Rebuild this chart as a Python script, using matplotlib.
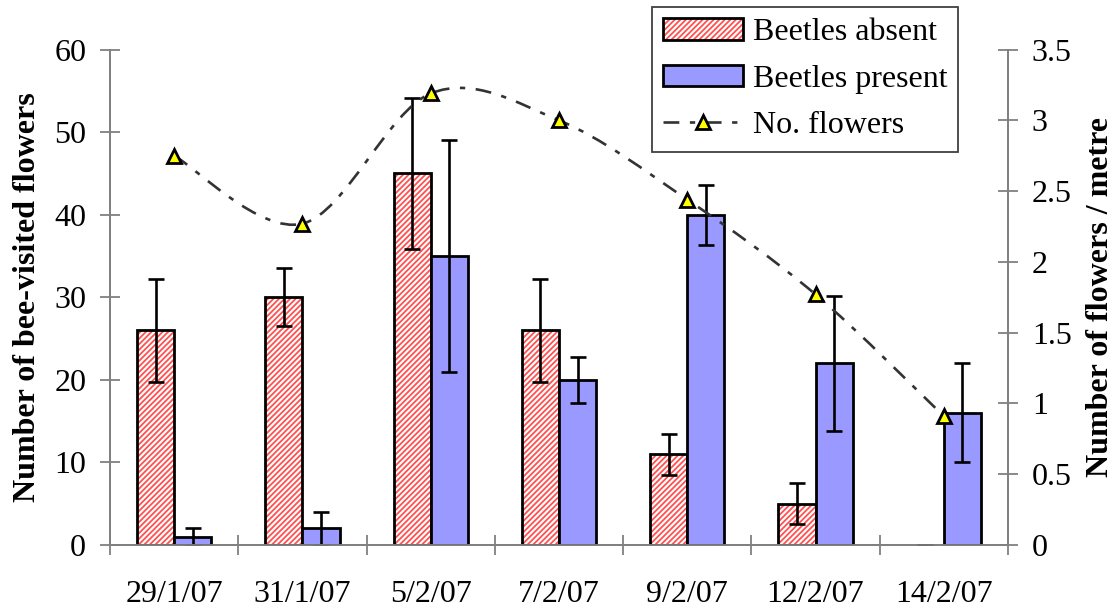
import numpy as np
import matplotlib.pyplot as plt
from matplotlib.path import Path
from matplotlib.patches import PathPatch, Patch
from matplotlib.lines import Line2D
from matplotlib.ticker import FixedLocator, MultipleLocator

plt.rcParams['font.family'] = ['Liberation Serif', 'DejaVu Serif']
plt.rcParams['hatch.linewidth'] = 1.3

dates = ['29/1/07', '31/1/07', '5/2/07', '7/2/07', '9/2/07', '12/2/07', '14/2/07']
absent = [26, 30, 45, 26, 11, 5, 0]
absent_err = [6.2, 3.5, 9.1, 6.2, 2.5, 2.5, 0]
present = [1, 2, 35, 20, 40, 22, 16]
present_err = [1, 2, 14, 2.8, 3.65, 8.2, 6]
flowers = [2.75, 2.27, 3.19, 3.0, 2.44, 1.77, 0.91]

fs = 23
grey = '#808080'
red = '#ff5050'
x = np.arange(len(dates))
w = 0.29

fig = plt.figure(figsize=(11.17, 6.09), dpi=100)
ax = fig.add_axes([0.0985, 0.1051, 0.8039, 0.8135])
ax2 = ax.twinx()

# beetles absent: red hatch, then black border on top
lw_abs = [2 if v > 0 else 0 for v in absent]
ax.bar(x - w / 2, absent, w, color='white', edgecolor=red, hatch='//////', linewidth=0, zorder=2)
ax.bar(x - w / 2, absent, w, fill=False, edgecolor='black', linewidth=lw_abs, zorder=3)
ax.bar(x + w / 2, present, w, color='#9999ff', edgecolor='black', linewidth=2, zorder=3)

ax.errorbar(x - w / 2, absent, yerr=absent_err, fmt='none', ecolor='black',
            elinewidth=1.9, capsize=5.5, capthick=1.9, zorder=4)
ax.errorbar(x + w / 2, present, yerr=present_err, fmt='none', ecolor='black',
            elinewidth=1.9, capsize=5.5, capthick=1.9, zorder=4)

ax.set_xlim(-0.5, len(dates) - 0.5)
ax.set_ylim(0, 60)
ax2.set_ylim(0, 3.5)

# smoothed line (Catmull-Rom style bezier like the spreadsheet "smoothed line")
pts = np.column_stack([x, flowers]).astype(float)
verts = [pts[0]]
codes = [Path.MOVETO]
n = len(pts)
for i in range(n - 1):
    p0 = pts[max(i - 1, 0)]
    p1 = pts[i]
    p2 = pts[i + 1]
    p3 = pts[min(i + 2, n - 1)]
    verts += [p1 + (p2 - p0) / 6, p2 - (p3 - p1) / 6, p2]
    codes += [Path.CURVE4] * 3
curve_style = dict(linestyle=(0, (6, 4, 2, 4)), linewidth=1.9)
ax2.add_patch(PathPatch(Path(verts, codes), fill=False, edgecolor='#333333', zorder=3, **curve_style))
ax2.plot(x, flowers, linestyle='none', marker='^', markersize=10, markerfacecolor='#ffff00',
         markeredgecolor='black', markeredgewidth=2, zorder=5)

# axes styling
for a in (ax, ax2):
    a.spines['top'].set_visible(False)
    for s in ('left', 'right', 'bottom'):
        a.spines[s].set_color(grey)
        a.spines[s].set_linewidth(1.3)

ax.yaxis.set_major_locator(MultipleLocator(10))
ax2.set_yticks(np.arange(0, 3.51, 0.5))
ax2.set_yticklabels(['0', '0.5', '1', '1.5', '2', '2.5', '3', '3.5'])

ax.set_xticks(x)
ax.set_xticklabels(dates)
ax.xaxis.set_minor_locator(FixedLocator(np.arange(-0.5, len(dates), 1)))
ax.tick_params(axis='x', which='major', length=0, pad=25, labelsize=fs)
ax.tick_params(axis='x', which='minor', direction='inout', length=15, width=1.3, color=grey)
ax.tick_params(axis='y', direction='inout', length=14.4, width=1.3, color=grey, pad=10, labelsize=fs)
ax2.tick_params(axis='y', direction='inout', length=14.4, width=1.3, color=grey, pad=10, labelsize=fs)

ax.set_ylabel('Number of bee-visited flowers', fontsize=fs, fontweight='bold', labelpad=9)
ax2.set_ylabel('Number of flowers / metre', fontsize=fs, fontweight='bold', labelpad=10)

# legend
h_abs = (Patch(facecolor='white', edgecolor=red, hatch='//////', linewidth=0),
         Patch(fill=False, edgecolor='black', linewidth=2))
h_pres = Patch(facecolor='#9999ff', edgecolor='black', linewidth=2)
h_line = Line2D([], [], color='#333333', marker='^', markersize=10, markerfacecolor='#ffff00',
                markeredgecolor='black', markeredgewidth=2, **curve_style)
leg = ax2.legend([h_abs, h_pres, h_line], ['Beetles absent', 'Beetles present', 'No. flowers'],
                 loc='upper left', bbox_to_anchor=(652 / 1117, 1 - 7 / 609), bbox_transform=fig.transFigure,
                 borderaxespad=0, fontsize=fs, frameon=True, fancybox=False, framealpha=1,
                 edgecolor='#404040', handlelength=2.5, handleheight=0.65, handletextpad=0.3,
                 labelspacing=0.55, borderpad=0.35, numpoints=1)
leg.get_frame().set_linewidth(1.3)
leg.set_zorder(10)

plt.savefig('out.png', dpi=100)
